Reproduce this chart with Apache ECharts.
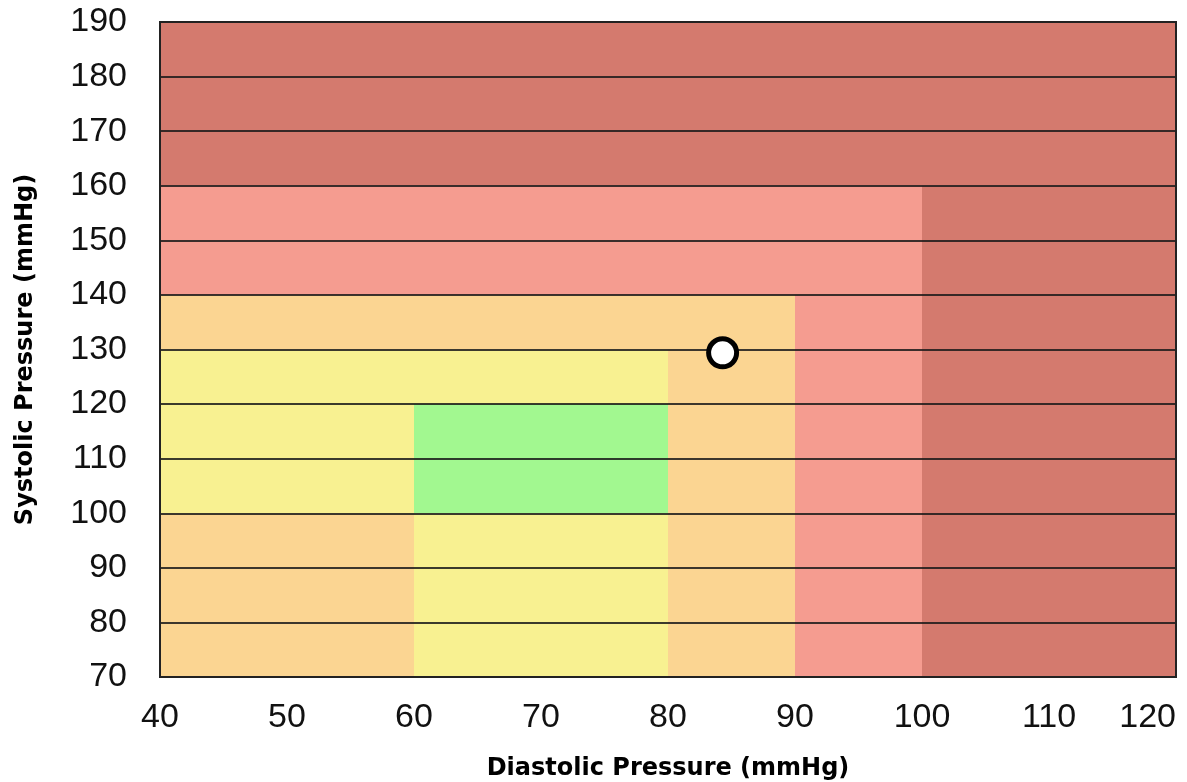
<!DOCTYPE html>
<html>
<head>
<meta charset="utf-8">
<script src="https://cdn.jsdelivr.net/npm/echarts@6/dist/echarts.min.js"></script>
<style>html,body{margin:0;padding:0;background:#fff}#c{width:1187px;height:782px}</style>
</head>
<body>
<div id="c"></div>
<script>
// Zone rectangles: [xFrom, xTo, yFrom, yTo, zoneIndex]
const zoneRects = [
  [40, 120, 160, 190, 4],
  [100, 120, 70, 160, 4],
  [40, 100, 140, 160, 3],
  [90, 100, 70, 140, 3],
  [40, 90, 130, 140, 2],
  [80, 90, 70, 130, 2],
  [40, 60, 70, 100, 2],
  [40, 80, 120, 130, 1],
  [40, 60, 100, 120, 1],
  [60, 80, 70, 100, 1],
  [60, 80, 100, 120, 0]
];
const zoneColors = ['#a2f890', '#f8f191', '#fbd592', '#f59c90', '#d47a6e'];
const reading = [[84.3, 129.4]];
const xTicks = {min: 40, max: 120, step: 10};
const yTicks = {min: 70, max: 190, step: 10};

const chart = echarts.init(document.getElementById('c'));
chart.setOption({
  animation: false,
  grid: {left: 160, right: 11, top: 22, bottom: 105, outerBoundsMode: 'none', containLabel: false,
         show: true, borderColor: '#222', borderWidth: 2, z: 10, backgroundColor: 'transparent'},
  xAxis: {
    type: 'value', min: xTicks.min, max: xTicks.max, interval: xTicks.step,
    name: 'Diastolic Pressure (mmHg)', nameLocation: 'middle', nameGap: 80,
    nameTextStyle: {fontFamily: 'DejaVu Sans', fontWeight: 'bold', fontSize: 24, color: '#000'},
    axisLine: {show: false}, axisTick: {show: false}, splitLine: {show: false},
    axisLabel: {fontFamily: 'Liberation Sans', fontSize: 34, color: '#111', margin: 24, alignMaxLabel: 'right'}
  },
  yAxis: {
    type: 'value', min: yTicks.min, max: yTicks.max, interval: yTicks.step, z: 8,
    name: 'Systolic Pressure (mmHg)', nameLocation: 'middle', nameGap: 122,
    nameTextStyle: {fontFamily: 'DejaVu Sans', fontWeight: 'bold', fontSize: 24, color: '#000'},
    axisLine: {show: false}, axisTick: {show: false},
    splitLine: {show: true, lineStyle: {color: '#1a1a1a', width: 2, opacity: 0.85}},
    axisLabel: {fontFamily: 'Liberation Sans', fontSize: 34, color: '#111', margin: 33}
  },
  series: [
    {
      type: 'custom', z: 1,
      data: zoneRects,
      renderItem: function (params, api) {
        const p1 = api.coord([api.value(0), api.value(3)]);
        const p2 = api.coord([api.value(1), api.value(2)]);
        return {
          type: 'rect',
          shape: {x: p1[0], y: p1[1], width: p2[0] - p1[0], height: p2[1] - p1[1]},
          style: {fill: zoneColors[api.value(4)]}
        };
      },
      encode: {x: [0, 1], y: [2, 3]},
      silent: true
    },
    {
      type: 'scatter', z: 20,
      data: reading,
      symbol: 'circle', symbolSize: 28,
      itemStyle: {color: '#fff', borderColor: '#000', borderWidth: 5, opacity: 1}
    }
  ]
});
</script>
</body>
</html>
